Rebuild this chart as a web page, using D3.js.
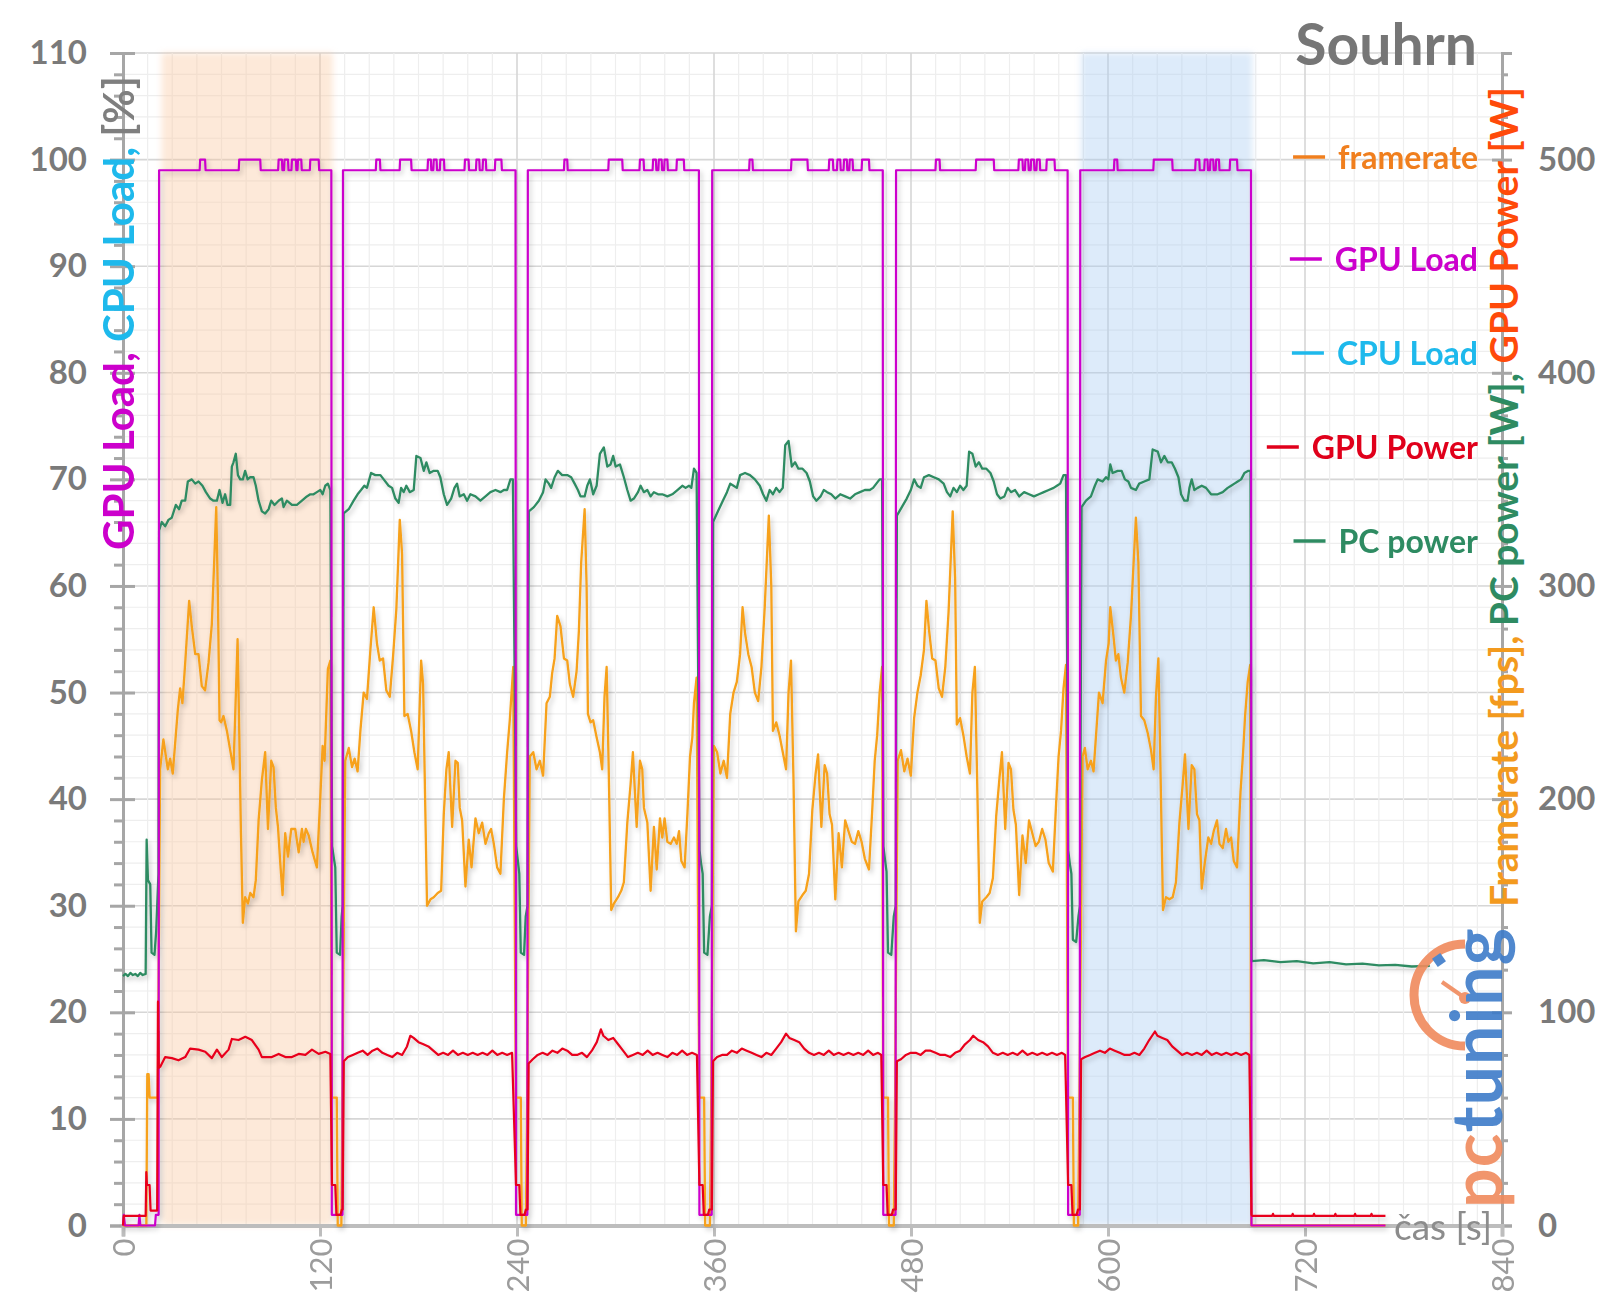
<!DOCTYPE html>
<html><head><meta charset="utf-8">
<script src="https://cdn.jsdelivr.net/npm/d3@7"></script>
<style>body{margin:0;background:#fff}svg{display:block}text{font-family:Lato,"Open Sans",sans-serif}</style>
</head><body><svg id="c" width="1600" height="1314"></svg>
<script>
// ---------- DATA ----------
const runStart=[22,134,246.6,358.9,470.9,583.1];
const runEnd=[127,239.1,350.8,462.8,575.4,687.1];
const highlightRanges=[[23.5,127.7],[583.6,687.9]];
const xTicks=[0,120,240,360,480,600,720,840];
const leftTicks=[0,10,20,30,40,50,60,70,80,90,100,110];
const rightTicks=[0,100,200,300,400,500];
const legendItems=["framerate","GPU Load","CPU Load","GPU Power","PC power"];

// framerate [fps] per run, time relative to run start
const fpsRun1=[[0.6,214],[2.6,228],[5.3,214],[6.7,219],[8.3,212],[11.4,242],[12.8,252],[14.2,245],[15.9,264],[18.3,293],[19.9,281],[22,268],[24,268],[26,253],[28,251],[30.1,264],[32.1,282],[34.8,337],[35.8,295],[36.8,237],[37.8,236],[39.2,239],[41.3,232],[43.3,223],[45.3,214],[46.7,248],[47.8,275],[48.8,232],[49.8,186],[51,142],[52.4,154],[54.1,151],[55.5,156],[57.5,154],[58.9,162],[60.6,190],[62.6,209],[64.6,222],[66.3,186],[68.3,218],[69.7,215],[71.1,196],[72.4,187],[73.8,170],[75.2,155],[76.8,184],[78.5,173],[80.5,186],[82.9,186],[85,175],[87,186],[88,180],[89.4,186],[91.1,183],[93.5,175],[96.1,168],[98.2,201],[99.6,225],[100.8,218],[102.8,261],[104.3,265]];
const fpsRun2=[[1.4,218],[3.5,224],[5.5,215],[7.1,219],[8.9,213],[10.6,232],[12.6,250],[14.6,247],[16.7,270],[18.7,290],[20.7,273],[22.4,265],[24.4,266],[26.4,251],[28.5,248],[30.5,267],[32.5,289],[34.6,331],[36,315],[37.4,239],[39.4,240],[41.5,232],[43.5,222],[45.5,214],[47.6,265],[48.8,254],[50.2,193],[51.2,150],[53.3,153],[55.3,154],[57.7,156],[59.8,157],[61.4,193],[63,214],[64.4,222],[66.5,187],[68.5,218],[69.9,217],[71.1,196],[72.6,190],[74.6,159],[76.6,181],[78.3,168],[80.7,191],[82.7,184],[84.8,189],[86.8,179],[88.8,184],[90.2,186],[91.9,179],[93.9,168],[95.9,165],[98,200],[100,222],[101.6,237],[103.7,262]];
const fpsRun3=[[1.2,220],[3.3,222],[5.3,214],[7.3,218],[9.3,211],[11.4,245],[13.4,248],[14.8,259],[16.3,266],[17.9,286],[19.9,281],[22,266],[24,265],[25.6,254],[27.6,248],[29.7,260],[31.1,279],[32.5,311],[34.6,336],[35.8,300],[36.6,240],[38.2,236],[39.8,237],[41.9,229],[43.9,222],[45.3,214],[46.7,248],[48,262],[49.2,217],[50.8,148],[52.4,151],[54.9,154],[56.9,157],[58.5,161],[60.6,189],[62.6,207],[64,222],[66.3,187],[68.3,218],[69.7,214],[70.7,196],[72.8,189],[74.8,157],[76.8,187],[78.5,167],[80.5,191],[81.9,182],[83.3,191],[85,180],[87,179],[89,182],[90.7,179],[92.1,185],[93.5,171],[95.5,168],[97.2,193],[98.8,220],[100.2,229],[101.2,245],[102.8,257]];
const fpsRun4=[[1,225],[3,222],[5,212],[7,218],[9,210],[11,240],[13,250],[15,255],[17,268],[18.5,290],[20,278],[22,268],[24,262],[26,250],[28,246],[30,262],[32,290],[34.5,333],[36,300],[37,232],[39,236],[41,230],[43,222],[45,214],[46.5,250],[48,265],[49.5,210],[51,138],[52.5,152],[55,155],[57,157],[59,165],[61,195],[63,212],[64.5,221],[66.5,187],[68.5,216],[70,212],[71.5,193],[73,188],[75,153],[77,184],[79,168],[81,190],[83,185],[85,180],[87,179],[89,185],[91,180],[93,172],[95.5,167],[97.5,195],[99,218],[100.5,230],[102,250],[103.5,262]];
const fpsRun5=[[1,218],[3,223],[5,213],[7,219],[9,211],[11,238],[13,250],[15,258],[17,270],[18.5,293],[20,280],[22,266],[24,265],[26,252],[28,248],[30,262],[32,288],[34.5,335],[36,303],[37,235],[39,238],[41,230],[43,220],[45,212],[46.5,250],[48,262],[49.5,205],[51,142],[52.5,152],[55,154],[57,156],[59,163],[61,192],[63,210],[64.5,222],[66.5,186],[68.5,217],[70,214],[71.5,195],[73,188],[75,155],[77,183],[79,170],[81,190],[83,184],[85,178],[87,180],[89,186],[91,181],[93,170],[95.5,166],[97.5,198],[99,220],[100.5,232],[102,252],[103.5,263]];
const fpsRun6=[[1.4,220],[2.8,224],[4.5,214],[6.5,218],[8.1,213],[9.8,232],[11.4,250],[13.6,245],[15.7,265],[17.3,273],[18.3,290],[20.3,276],[21.7,265],[23.2,268],[24.8,257],[26.8,250],[28.9,264],[30.9,286],[32.5,311],[33.9,332],[35.4,311],[37,239],[39,237],[41.1,231],[43.1,223],[44.7,214],[46.1,248],[47.6,266],[48.8,217],[50.4,148],[52.2,154],[54.3,153],[56.3,154],[58.3,161],[60.4,189],[62.4,207],[63.8,221],[65.9,186],[67.9,216],[69.5,214],[71.1,193],[72.6,190],[74,158],[76,171],[78,182],[79.7,179],[81.3,185],[83.3,190],[84.8,179],[86.8,177],[88.8,186],[90.2,180],[91.9,182],[93.5,171],[95.5,168],[97.6,203],[99.2,222],[100.4,239],[102,255],[103.5,263]];
// framerate outside runs (absolute time)
const fpsGaps=[[0,0],[14.2,0],[14.8,71],[15.6,71],[16.2,60],[21.2,60],
 [127.2,60],[130.2,60],[130.8,0],[133,0],[133.6,60],
 [239.3,60],[242.3,60],[242.9,0],[245.4,0],[246.2,60],
 [351,60],[354,60],[354.6,0],[357.5,0],[358.3,60],
 [463,60],[466,60],[466.6,0],[469.5,0],[470.3,60],
 [575.6,60],[578.6,60],[579.2,0],[581.8,0],[582.6,60],
 [687.3,0],[769,0]];

// PC power [W]
const pcRun1=[[0,326],[1.6,330],[3.7,328],[5.7,331],[7.7,332],[10.2,338],[12.2,336],[13.8,340],[15.9,340],[17.5,349],[19.9,350],[22,348],[24,349],[26.4,347],[28.5,344],[31.1,341],[33.1,340],[35.2,340],[36.8,345],[38.6,339],[40.2,343],[41.7,338],[43.3,338],[44.3,356],[45.3,358],[46.7,362],[48,352],[49.4,350],[51,350],[52.4,354],[53.9,350],[55.5,351],[57.5,351],[58.9,347],[60.6,340],[62.6,335],[64.6,334],[66.7,336],[68.3,340],[70.3,338],[72.8,340],[74.8,341],[75.8,337],[77.8,340],[80.9,338],[83.9,338],[87,340],[90,342],[92.1,343],[94.1,343],[96.1,344],[98.2,345],[99.6,343],[101.2,347],[102.8,348],[104.3,345]];
const pcRun2=[[0.4,334],[3.5,336],[6.5,340],[8.9,343],[11,345],[13,347],[14.6,346],[17.1,353],[19.7,352],[22.8,352],[24.8,350],[27.8,347],[29.9,346],[31.9,341],[33.9,339],[35.4,346],[37,344],[38.6,347],[40.7,344],[43.1,345],[44.7,361],[47.2,360],[49.2,354],[50.8,358],[52.8,353],[55.3,354],[57.7,354],[59.3,351],[61.4,343],[63.4,338],[65.9,341],[67.9,346],[69.5,348],[71.1,342],[73.6,343],[75.6,340],[77.6,343],[80.7,342],[83.7,340],[86.8,342],[89.8,344],[92.9,345],[95.9,344],[98,345],[100,345],[102,350],[103.5,350]];
const pcRun3=[[0.6,335],[3.7,337],[6.7,340],[9.3,344],[10.8,350],[12.8,348],[14.2,346],[16.3,351],[18.3,354],[20.9,352],[24,352],[26.4,351],[28.5,348],[30.5,345],[32.1,342],[34.6,342],[36.2,347],[37.8,350],[39.8,343],[41.9,347],[43.9,362],[46.3,365],[48.4,356],[50.4,357],[52,361],[53.5,356],[56.1,357],[58.5,351],[60.6,345],[62.6,340],[64.6,341],[67.1,344],[68.7,347],[70.7,344],[72.8,345],[74.8,342],[76.8,344],[79.3,343],[81.9,343],[85,342],[88,343],[91.1,345],[94.1,347],[96.1,346],[98.2,347],[99.6,346],[101.2,355],[102.8,353]];
const pcRun4=[[0.5,330],[3.5,335],[6.5,340],[9,344],[11,348],[13,347],[15,346],[17,352],[20,353],[23,352],[26,350],[29,347],[31,343],[33,340],[35,345],[37,343],[39,346],[41,344],[43,346],[44.5,366],[46.5,368],[48.5,356],[50.5,358],[52.5,355],[55,355],[57.5,353],[59.5,349],[61.5,342],[63.5,340],[66,342],[68,345],[70,344],[72.5,343],[75,341],[78,343],[81,342],[84,341],[87,343],[90,344],[93,345],[96,345],[98,346],[100,348],[102,350],[103.5,350]];
const pcRun5=[[0.5,333],[3.5,337],[6.5,341],[9,345],[11,350],[13,347],[15,346],[17,351],[20,352],[23,351],[26,350],[29,348],[31,344],[33,342],[35,346],[37,344],[39,347],[41,345],[43,347],[44.5,363],[46.5,362],[48.5,356],[50.5,358],[52.5,355],[55,355],[57.5,353],[59.5,349],[61.5,343],[63.5,341],[66,342],[68,346],[70,344],[72.5,345],[75,342],[78,344],[81,343],[84,342],[87,343],[90,344],[93,345],[96,346],[98,347],[100,348],[102,352],[103.5,352]];
const pcRun6=[[0.8,337],[3.5,340],[6.5,342],[8.9,347],[10.6,350],[13.6,349],[15.7,351],[17.1,350],[18.3,357],[19.7,353],[22.8,354],[25.2,354],[27.2,350],[29.3,349],[30.9,346],[33.9,345],[35.9,348],[39,349],[42.1,350],[44.1,364],[47.2,363],[49.2,358],[51.2,361],[53.3,358],[55.7,358],[57.7,355],[59.8,351],[61.4,343],[63.4,340],[65.4,340],[66.5,346],[67.9,350],[69.5,345],[71.5,346],[74,347],[76.6,346],[79.7,343],[83.7,343],[86.8,344],[89.8,346],[91.9,347],[93.9,348],[95.9,349],[98,350],[100,353],[102.4,354],[103.7,354]];
const pcGaps=[[0,117],[1.5,118],[3,117],[4.5,118.5],[6,117.5],[7.5,118],[9,117],[10.5,118.5],[12,117.5],[13.8,118],[14.4,181],[15.2,162],[16.6,160],[17.4,128],[19.2,127],[20.2,138],[21.6,165],
 [127.4,178],[128.3,173],[129.3,168],[130.2,128],[132.2,127],[133.2,145],[133.8,150],
 [239.5,178],[240.4,172],[241.4,165],[242.3,128],[244.3,127],[245.3,145],[246.4,150],
 [351.2,176],[352.1,170],[353.1,165],[354,128],[356,127],[357.5,145],[358.7,150],
 [463.2,178],[464.1,172],[465.1,166],[466,128],[468,127],[469.5,145],[470.7,150],
 [575.8,176],[576.7,170],[577.7,165],[578.6,134],[580.6,133],[582,145],[582.9,150],
 [687.5,124],[695,124.5],[705,123.5],[715,124],[725,123],[735,123.5],[745,122.5],[755,122.8],[765,122],[775,122.3],[785,121.5],[796,121.8]];

// GPU power [W]
const gpuPwRun1=[[0.7,74.5],[3.7,79],[7.8,78.5],[11.8,77.5],[15.9,79],[18.9,83],[24,82.5],[28.1,81.5],[32.1,78.5],[35.2,82.5],[38.2,79],[42.3,82.5],[44.3,87.5],[48.4,87],[52.5,88.5],[56.5,87],[60.6,82.5],[62.6,79],[68.7,79],[72.8,80.5],[76.9,79],[80.9,79],[85,80.5],[89.1,80],[93.1,82.5],[97.2,80.5],[101.3,81.5],[104.3,80.5]];
const gpuPwRun2=[[0.5,77],[3,79],[6,80],[9,81],[12,82],[15,80],[18,82],[21,83],[24,81],[27,80],[30,79],[33,81],[36,80],[39,84],[41,89],[43,88],[46,86],[49,85],[52,84],[55,82],[58,80],[61,81],[64,80],[67,82],[70,80],[73,81],[76,80],[79,81],[82,80],[85,81],[88,80],[91,82],[94,80],[97,81],[100,80],[103,81]];
const gpuPwRun3=[[0.5,76],[3,78],[6,80],[9,81],[12,80],[15,82],[18,81],[21,83],[24,82],[27,80],[30,80],[33,81],[36,79],[39,82],[42,86],[44.5,92],[46,89],[49,87],[52,88],[55,85],[58,82],[61,79],[64,80],[67,81],[70,80],[73,82],[76,80],[79,81],[82,80],[85,79],[88,81],[91,80],[94,82],[97,80],[100,81],[103,80]];
const gpuPwRun4=[[0.5,77],[3,79],[6,80],[9,80],[12,82],[15,81],[18,83],[21,82],[24,81],[27,80],[30,79],[33,81],[36,80],[39,83],[42,86],[45,90],[47,88],[50,87],[53,86],[56,83],[59,81],[62,80],[65,81],[68,80],[71,82],[74,80],[77,81],[80,80],[83,81],[86,80],[89,81],[92,80],[95,82],[98,80],[101,81],[103,80]];
const gpuPwRun5=[[0.5,77],[3,78],[6,80],[9,81],[12,81],[15,80],[18,82],[21,82],[24,81],[27,80],[30,80],[33,79],[36,81],[39,82],[42,85],[45,87],[47,89],[50,87],[53,86],[56,84],[59,81],[62,80],[65,81],[68,80],[71,81],[74,80],[77,82],[80,80],[83,81],[86,80],[89,81],[92,80],[95,81],[98,80],[101,81],[103,80]];
const gpuPwRun6=[[0.5,78],[3,79],[6,80],[9,81],[12,82],[15,81],[18,83],[21,82],[24,81],[27,80],[30,80],[33,81],[36,80],[39,83],[42,87],[45.5,91],[47,89],[50,88],[53,87],[56,84],[59,82],[62,80],[65,81],[68,80],[71,81],[74,80],[77,82],[80,80],[83,81],[86,80],[89,81],[92,80],[95,81],[98,80],[101,81],[103,80]];
const gpuPwGaps=[[0,0],[0.5,4.5],[13.8,4.5],[14.2,25],[14.6,19],[16.2,19],[16.8,7],[20.8,7],[21.3,105],[21.8,74],
 [127.3,19],[129.3,19],[130,5],[132.5,5],[133.3,7.5],[133.8,7.5],
 [239.4,19],[241.4,19],[242.1,5],[244.6,5],[245.4,7.5],[246.4,7.5],
 [351.1,19],[353.1,19],[353.8,5],[356.3,5],[357.1,7.5],[358.7,7.5],
 [463.1,19],[465.1,19],[465.8,5],[468.3,5],[469.1,7.5],[470.7,7.5],
 [575.7,19],[577.7,19],[578.4,5],[580.9,5],[581.7,7.5],[582.9,7.5],
 [687.4,5],[688,4.5],[700,4.5],[700.5,5.5],[701,4.5],[712,4.5],[712.5,5.5],[713,4.5],[725,4.5],[725.5,5.5],[726,4.5],[738,4.5],[738.5,5.5],[739,4.5],[750,4.5],[750.5,5.5],[751,4.5],[760,4.5],[760.5,5.5],[761,4.5],[769,4.5]];

// GPU load [%]
const loadRun1=[[0,99],[24.7,99],[25,100],[28,100],[28.3,99],[48.5,99],[48.8,100],[61.6,100],[61.9,99],[72.5,99],[72.8,100],[74.8,100],[75.1,99],[76.1,99],[76.4,100],[78.5,100],[78.8,99],[80.6,99],[80.9,100],[83.3,100],[83.6,99],[84.3,99],[84.6,100],[86.6,100],[86.9,99],[91.8,99],[92.1,100],[97.2,100],[97.5,99],[104.9,99]];
const loadRun2=[[0,99],[20,99],[20.3,100],[22.5,100],[22.8,99],[34.5,99],[34.8,100],[41.5,100],[41.8,99],[51.5,99],[51.8,100],[53.5,100],[53.8,99],[55,99],[55.3,100],[57,100],[57.3,99],[59,99],[59.3,100],[61.5,100],[61.8,99],[74,99],[74.3,100],[76.5,100],[76.8,99],[81,99],[81.3,100],[83,100],[83.3,99],[85,99],[85.3,100],[87,100],[87.3,99],[92.5,99],[92.8,100],[96.5,100],[96.8,99],[105.1,99]];
const loadRun3=[[0,99],[22,99],[22.3,100],[24,100],[24.3,99],[49,99],[49.3,100],[57.5,100],[57.8,99],[68,99],[68.3,100],[70.5,100],[70.8,99],[76,99],[76.3,100],[78,100],[78.3,99],[79.5,99],[79.8,100],[81.5,100],[81.8,99],[83,99],[83.3,100],[85,100],[85.3,99],[90.5,99],[90.8,100],[95,100],[95.3,99],[104.2,99]];
const loadRun4=[[0,99],[22.5,99],[22.8,100],[24.5,100],[24.8,99],[48,99],[48.3,100],[58,100],[58.3,99],[71,99],[71.3,100],[73.5,100],[73.8,99],[76,99],[76.3,100],[78,100],[78.3,99],[80,99],[80.3,100],[82,100],[82.3,99],[83.5,99],[83.8,100],[85.5,100],[85.8,99],[91,99],[91.3,100],[95.5,100],[95.8,99],[103.9,99]];
const loadRun5=[[0,99],[24,99],[24.3,100],[26.5,100],[26.8,99],[48.5,99],[48.8,100],[59.5,100],[59.8,99],[74.5,99],[74.8,100],[77,100],[77.3,99],[78.5,99],[78.8,100],[80.5,100],[80.8,99],[82,99],[82.3,100],[84,100],[84.3,99],[85.5,99],[85.8,100],[87.5,100],[87.8,99],[91.5,99],[91.8,100],[96.5,100],[96.8,99],[104.5,99]];
const loadRun6=[[0,99],[20.5,99],[20.8,100],[22.5,100],[22.8,99],[44.5,99],[44.8,100],[56,100],[56.3,99],[70,99],[70.3,100],[72.5,100],[72.8,99],[75.5,99],[75.8,100],[77.5,100],[77.8,99],[79,99],[79.3,100],[81,100],[81.3,99],[82.5,99],[82.8,100],[84.5,100],[84.8,99],[91,99],[91.3,100],[95.5,100],[95.8,99],[104,99]];
const loadGaps=[[0,0],[0.5,1],[1.2,0],[9.5,0],[10,1],[10.6,0],[19.5,0],[20,1],[21.7,1],
 [127.2,1],[133.7,1],[239.4,1],[246.3,1],[351.1,1],[358.6,1],[463.1,1],[470.6,1],[575.7,1],[582.8,1],
 [687.4,0],[769,0]];
const cpuLoad=[];

// ---------- BUILD ----------
function merge(runs,gaps){
  const out=gaps.slice();
  runs.forEach((r,i)=>r.forEach(d=>out.push([runStart[i]+d[0],d[1]])));
  return out.sort((a,b)=>a[0]-b[0]);
}
const framerate=merge([fpsRun1,fpsRun2,fpsRun3,fpsRun4,fpsRun5,fpsRun6],fpsGaps);
const pcPower=merge([pcRun1,pcRun2,pcRun3,pcRun4,pcRun5,pcRun6],pcGaps);
const gpuPower=merge([gpuPwRun1,gpuPwRun2,gpuPwRun3,gpuPwRun4,gpuPwRun5,gpuPwRun6],gpuPwGaps);
const gpuLoad=merge([loadRun1,loadRun2,loadRun3,loadRun4,loadRun5,loadRun6],loadGaps);

const svg=d3.select("#c");
const P={l:123,r:1502,t:53,b:1225.5};
const x=d3.scaleLinear().domain([0,840]).range([P.l,P.r]);
const yL=d3.scaleLinear().domain([0,110]).range([P.b,P.t]);
const yR=d3.scaleLinear().domain([0,550]).range([P.b,P.t]);

const defs=svg.append("defs");
defs.append("filter").attr("id","sh").attr("x","-5%").attr("y","-5%").attr("width","110%").attr("height","110%")
  .append("feDropShadow").attr("dx",2).attr("dy",3).attr("stdDeviation",2.5).attr("flood-color","#000").attr("flood-opacity",0.22);
defs.append("filter").attr("id","bl").append("feGaussianBlur").attr("stdDeviation",3);

// grid
const g=svg.append("g");
g.selectAll(".hm").data(d3.range(0,111,2)).join("line")
  .attr("x1",P.l).attr("x2",P.r).attr("y1",d=>yL(d)).attr("y2",d=>yL(d))
  .attr("stroke",d=>d%10===0?"#d6d6d6":"#eeeeee").attr("stroke-width",d=>d%10===0?1.6:1.2);
g.selectAll(".vm").data(d3.range(0,841,15)).join("line")
  .attr("y1",P.t).attr("y2",P.b).attr("x1",d=>x(d)).attr("x2",d=>x(d))
  .attr("stroke",d=>d%120===0?"#d6d6d6":"#eeeeee").attr("stroke-width",d=>d%120===0?1.6:1.2);

// highlight ranges
const hcol=["#f9c9a0","#a9cdf2"];
svg.append("g").attr("filter","url(#bl)").selectAll("rect").data(highlightRanges).join("rect")
  .attr("x",d=>x(d[0])).attr("width",d=>x(d[1])-x(d[0])).attr("y",P.t).attr("height",P.b-P.t)
  .attr("fill",(d,i)=>hcol[i]).attr("opacity",0.4);

// axes
const axCol="#a6a6a6";
const la=svg.append("g").attr("transform",`translate(${P.l},0)`);
la.call(d3.axisLeft(yL).tickValues(d3.range(0,111,2).filter(d=>d%10)).tickSize(9).tickFormat(""));
la.call(g2=>{g2.selectAll("line").attr("stroke",axCol).attr("stroke-width",3);g2.select(".domain").remove();});
const la2=svg.append("g").attr("transform",`translate(${P.l},0)`);
la2.call(d3.axisLeft(yL).tickValues(leftTicks).tickSize(13).tickPadding(23));
la2.selectAll(".tick line").attr("x2",-13).attr("x1",12).attr("stroke",axCol).attr("stroke-width",3);
la2.select(".domain").attr("stroke",axCol).attr("stroke-width",3);
la2.selectAll("text").attr("fill","#7a7a7a").attr("font-size",33).attr("font-weight",700).attr("font-family","Lato");

const ra=svg.append("g").attr("transform",`translate(${P.r},0)`);
ra.call(d3.axisRight(yR).tickValues(d3.range(0,551,20).filter(d=>d%100)).tickSize(6).tickFormat(""));
ra.call(g2=>{g2.selectAll("line").attr("stroke",axCol).attr("stroke-width",3);g2.select(".domain").remove();});
const ra2=svg.append("g").attr("transform",`translate(${P.r},0)`);
ra2.call(d3.axisRight(yR).tickValues(rightTicks).tickSize(10).tickPadding(26));
ra2.selectAll(".tick line").attr("x1",-10).attr("x2",10).attr("stroke",axCol).attr("stroke-width",3);
ra2.select(".domain").attr("stroke",axCol).attr("stroke-width",3);
ra2.selectAll("text").attr("fill","#7a7a7a").attr("font-size",33).attr("font-weight",700).attr("font-family","Lato");

const ba=svg.append("g").attr("transform",`translate(0,${P.b})`);
ba.call(d3.axisBottom(x).tickValues(xTicks).tickSize(11));
ba.select(".domain").attr("stroke","#bdbdbd").attr("stroke-width",4);
ba.selectAll(".tick line").attr("stroke","#bdbdbd").attr("stroke-width",3);
ba.selectAll("text").attr("transform","rotate(-90)").attr("text-anchor","end").attr("x",-13).attr("y",0).attr("dy","0.36em")
  .attr("fill","#9c9c9c").attr("font-size",31).attr("font-family","Lato");

// series
const lineR=d3.line().x(d=>x(d[0])).y(d=>yR(d[1]));
const lineL=d3.line().x(d=>x(d[0])).y(d=>yL(d[1]));
const S=svg.append("g").attr("fill","none").attr("stroke-linejoin","round").attr("filter","url(#sh)");
S.append("path").datum(framerate).attr("d",lineR).attr("stroke","#f7a11a").attr("stroke-width",2.3);
S.append("path").datum(pcPower).attr("d",lineR).attr("stroke","#2e8b62").attr("stroke-width",2.3);
S.append("path").datum(cpuLoad).attr("d",lineL).attr("stroke","#1eb9ec").attr("stroke-width",2.3);
S.append("path").datum(gpuLoad).attr("d",lineL).attr("stroke","#cc00cc").attr("stroke-width",2.2);
S.append("path").datum(gpuPower).attr("d",lineR).attr("stroke","#e8001c").attr("stroke-width",2.2);

// axis titles
const lt=svg.append("text").attr("transform","translate(118,313) rotate(-90)").attr("text-anchor","middle").attr("dominant-baseline","central")
  .attr("font-size",42).attr("font-weight",700);
[["GPU Load,","#cc00cc"],[" CPU Load,","#1eb9ec"],[" [%]","#7f7f7f"]].forEach(s=>lt.append("tspan").text(s[0]).attr("fill",s[1]));
const rt=svg.append("text").attr("transform","translate(1503,497) rotate(-90)").attr("text-anchor","middle").attr("dominant-baseline","central")
  .attr("font-size",39).attr("font-weight",700);
[["Framerate [fps],","#f39a1e"],[" PC power [W],","#2e8b62"],[" GPU Power [W]","#ff4a0a"]].forEach(s=>rt.append("tspan").text(s[0]).attr("fill",s[1]));

svg.append("text").attr("x",1477).attr("y",65).attr("text-anchor","end").attr("font-size",57).attr("font-weight",700).attr("fill","#767676").text("Souhrn");
svg.append("text").attr("x",1492).attr("y",1225).attr("text-anchor","end").attr("dominant-baseline","central").attr("font-size",37).attr("fill","#8c8c8c").text("čas [s]");

// legend
const legCol=["#f07f1e","#cc00cc","#1eb9ec","#e0001b","#2e8b62"];
const legY=[156,258,352,446,540];
legendItems.forEach((name,i)=>{
  const t=svg.append("text").attr("x",1478).attr("y",legY[i]).attr("text-anchor","end").attr("dominant-baseline","central")
    .attr("font-size",32).attr("font-weight",700).attr("fill",legCol[i]).text(name);
  const w=t.node().getComputedTextLength();
  svg.append("line").attr("x1",1478-w-45).attr("x2",1478-w-13).attr("y1",legY[i]+1).attr("y2",legY[i]+1).attr("stroke",legCol[i]).attr("stroke-width",3.5);
});

// logo
const lg=svg.append("g").attr("opacity",0.9);
lg.append("path").attr("d","M1465,944 A51,51 0 0 0 1465,1046").attr("fill","none").attr("stroke","#f08a5d").attr("stroke-width",9);
lg.append("rect").attr("x",1434).attr("y",955).attr("width",10).attr("height",10).attr("fill","#3d7cc9").attr("transform","rotate(-35,1439,960)");
lg.append("line").attr("x1",1465).attr("y1",998).attr("x2",1442).attr("y2",982).attr("stroke","#f08a5d").attr("stroke-width",4);
lg.append("circle").attr("cx",1465).attr("cy",998).attr("r",6).attr("fill","#f08a5d");
const lt2=lg.append("text").attr("transform","translate(1502,1208) rotate(-90)").attr("font-size",70).attr("font-weight",700).attr("letter-spacing",1);
lt2.append("tspan").text("pc").attr("fill","#f08a5d");
lt2.append("tspan").text("tuning").attr("fill","#3d7cc9");
</script></body></html>
